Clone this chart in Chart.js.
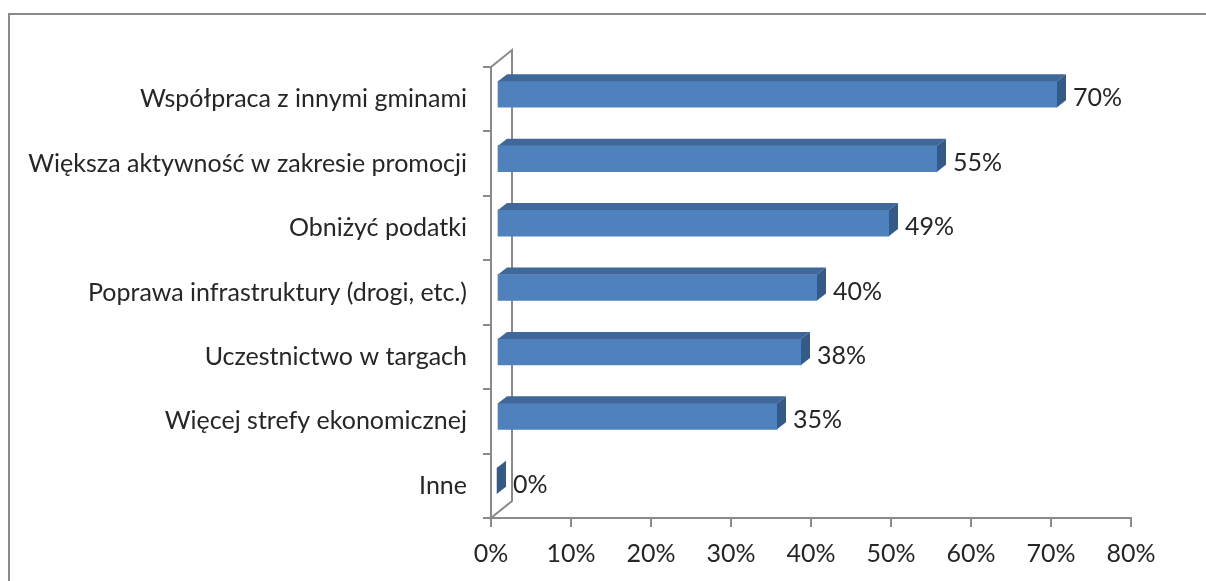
<!DOCTYPE html>
<html><head><meta charset="utf-8">
<script src="https://cdn.jsdelivr.net/npm/chart.js@4.4.0/dist/chart.umd.min.js"></script>
<style>
html,body{margin:0;padding:0;background:#fff;overflow:hidden}
#wrap{position:relative;width:1206px;height:581px}
#frame{position:absolute;left:8px;top:13px;width:1300px;height:700px;border:2px solid #8a8a8a;box-sizing:border-box}
canvas{position:absolute;left:0;top:0}
</style></head><body>
<div id="wrap"><div id="frame"></div><canvas id="c" width="1206" height="581"></canvas></div>
<script>
const categories = [
  'Współpraca z innymi gminami',
  'Większa aktywność w zakresie promocji',
  'Obniżyć podatki',
  'Poprawa infrastruktury (drogi, etc.)',
  'Uczestnictwo w targach',
  'Więcej strefy ekonomicznej',
  'Inne'
];
const values = [70, 55, 49, 40, 38, 35, 0];
const tickValues = [0, 10, 20, 30, 40, 50, 60, 70, 80];

const FONT = {family: 'Lato', size: 25};
const TEXT = '#262626';
const AXIS = '#8a8a8a';
const D = {fx: 6, fy: -5, dx: 9, dy: -7};
const WALL = {dx: 21, dy: -17};

const threeD = {
  id: 'threeD',
  beforeDatasetsDraw(chart) {
    const {ctx, chartArea: a} = chart;
    ctx.save();
    ctx.strokeStyle = AXIS;
    ctx.lineWidth = 2;
    ctx.beginPath();
    ctx.moveTo(a.left, a.top);
    ctx.lineTo(a.left + WALL.dx, a.top + WALL.dy);
    ctx.lineTo(a.left + WALL.dx, a.bottom + WALL.dy);
    ctx.lineTo(a.left, a.bottom);
    ctx.stroke();
    ctx.restore();
  },
  beforeDatasetDraw(chart) {
    chart.ctx.save();
    chart.ctx.translate(D.fx, D.fy);
  },
  afterDatasetDraw(chart, args) {
    const ctx = chart.ctx;
    args.meta.data.forEach(el => {
      const p = el.getProps(['x', 'y', 'base', 'height'], true);
      const t = p.y - p.height / 2, b = p.y + p.height / 2;
      ctx.fillStyle = '#3f6799';
      ctx.beginPath();
      ctx.moveTo(p.base, t);
      ctx.lineTo(p.x, t);
      ctx.lineTo(p.x + D.dx, t + D.dy);
      ctx.lineTo(p.base + D.dx, t + D.dy);
      ctx.closePath();
      ctx.fill();
      ctx.fillStyle = '#365a86';
      ctx.beginPath();
      ctx.moveTo(p.x, t);
      ctx.lineTo(p.x + D.dx, t + D.dy);
      ctx.lineTo(p.x + D.dx, b + D.dy);
      ctx.lineTo(p.x, b);
      ctx.closePath();
      ctx.fill();
    });
    ctx.restore();
  },
  afterDatasetsDraw(chart) {
    const ctx = chart.ctx;
    const meta = chart.getDatasetMeta(0);
    ctx.save();
    ctx.font = FONT.size + 'px ' + FONT.family;
    ctx.fillStyle = TEXT;
    ctx.textAlign = 'left';
    ctx.textBaseline = 'middle';
    meta.data.forEach((el, i) => {
      const p = el.getProps(['x', 'y'], true);
      ctx.fillText(values[i] + '%', p.x + D.fx + D.dx + 7, p.y - 1);
    });
    ctx.restore();
  }
};

new Chart(document.getElementById('c'), {
  type: 'bar',
  data: {
    labels: categories,
    datasets: [{data: values, backgroundColor: '#4f81bd', borderWidth: 0, barThickness: 26, clip: false}]
  },
  options: {
    indexAxis: 'y',
    responsive: false,
    animation: false,
    events: [],
    layout: {padding: {top: 67, right: 75, left: 0, bottom: 0}},
    plugins: {legend: {display: false}, tooltip: {enabled: false}},
    scales: {
      x: {
        min: 0, max: 80,
        afterBuildTicks: s => { s.ticks = tickValues.map(v => ({value: v})); },
        afterFit: s => { s.height = 63; },
        ticks: {callback: v => v + '%', color: TEXT, font: FONT, padding: 12, maxRotation: 0},
        grid: {drawOnChartArea: false, tickLength: 9, color: AXIS, lineWidth: 2},
        border: {color: AXIS, width: 2}
      },
      y: {
        afterFit: s => { s.width = 491; },
        ticks: {color: TEXT, font: FONT, padding: 16},
        grid: {drawOnChartArea: false, tickLength: 8, color: AXIS, lineWidth: 2, offset: true},
        border: {color: AXIS, width: 2}
      }
    }
  },
  plugins: [threeD]
});
</script>
</body></html>
